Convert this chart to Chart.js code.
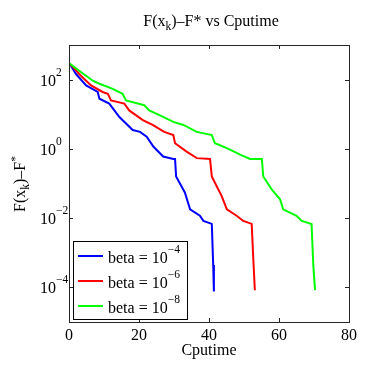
<!DOCTYPE html>
<html lang="en">
  <head>
    <meta charset="UTF-8" />
    <title>F(x_k)-F* vs Cputime</title>
    <script src="https://cdn.jsdelivr.net/npm/chart.js@4.4.1/dist/chart.umd.min.js"></script>
    <style>
      body { margin: 0; background: #fff; }
      #wrap { width: 382px; height: 370px; position: relative; }
    </style>
  </head>
  <body>
    <div id="wrap"><canvas id="gapChart"></canvas></div>
    <script>
      // values (Cputime, F(x_k)-F*)
      const blueTime = [0.2, 2, 4.9, 8.2, 8.7, 11.5, 14.4, 18.2, 20.3, 22.2, 24.1, 26.9, 29.8, 30.3, 30.6, 33.1, 34.6, 37.4, 38.4, 40.8, 41.2, 41.4];
      const blueGap = [290, 145, 68, 44, 28, 20.4, 8.3, 3.5, 3.1, 2.24, 1.17, 0.6, 0.51, 0.51, 0.16, 0.055, 0.018, 0.0117, 0.0083, 0.0068, 0.00044, 0.000076];

      const redTime = [0.2, 3.4, 6.3, 9.6, 11.1, 12, 15.8, 17.2, 21.1, 23.9, 27.2, 29.8, 30.3, 33.6, 36.5, 40.3, 40.8, 42.2, 43.6, 45.1, 47.9, 49.8, 52.2, 52.7, 53.1];
      const redGap = [290, 130, 68, 44, 39, 25, 20.4, 12.9, 6.8, 4.9, 3.1, 2.5, 1.45, 0.83, 0.54, 0.51, 0.16, 0.083, 0.044, 0.018, 0.0117, 0.0083, 0.0068, 0.00054, 0.000083];

      const greenTime = [0.2, 2.9, 6.8, 8.7, 12.5, 15.3, 16.3, 21.5, 22.9, 26, 29.8, 32.7, 36.5, 40.8, 41.7, 45.1, 48.9, 51.7, 55.1, 55.5, 57.9, 60.3, 61.2, 65, 66.5, 69.3, 69.8, 70.3];
      const greenGap = [290, 180, 93, 76, 54, 39, 25, 18.2, 12.9, 9.3, 6, 4.9, 3.1, 2.5, 1.45, 1.05, 0.68, 0.51, 0.51, 0.16, 0.068, 0.035, 0.018, 0.0117, 0.0083, 0.0068, 0.00044, 0.000083];

      const xTicks = [0, 20, 40, 60, 80];
      const yTicks = [1e-4, 1e-2, 1e0, 1e2];
      const yTickExp = ['\u22124', '\u22122', '0', '2'];
      const legendExp = ['\u22124', '\u22126', '\u22128'];
      const colors = ['#0000ff', '#ff0000', '#00ff00'];

      const FONT = '"Liberation Serif", "Times New Roman", serif';

      function pts(xs, ys) {
        return xs.map((x, i) => ({ x: x, y: ys[i] }));
      }

      // draw pieces of text one after the other: [text, size, dy]
      function runWidth(ctx, parts) {
        let w = 0;
        parts.forEach((p) => {
          ctx.font = p[1] + 'px ' + FONT;
          w += ctx.measureText(p[0]).width;
        });
        return w;
      }
      function drawRun(ctx, parts, x, y) {
        parts.forEach((p) => {
          ctx.font = p[1] + 'px ' + FONT;
          ctx.fillText(p[0], x, y + p[2]);
          x += ctx.measureText(p[0]).width;
        });
      }

      const matlabAxes = {
        id: 'matlabAxes',
        afterDraw(chart) {
          const ctx = chart.ctx;
          const a = chart.chartArea;
          const xs = chart.scales.x;
          const ys = chart.scales.y;
          ctx.save();
          ctx.fillStyle = '#000';
          ctx.strokeStyle = '#262626';
          ctx.lineWidth = 1;
          ctx.textAlign = 'left';
          ctx.textBaseline = 'alphabetic';

          // box
          ctx.strokeRect(Math.round(a.left) + 0.5, Math.round(a.top) + 0.5,
            Math.round(a.right - a.left), Math.round(a.bottom - a.top));

          // inward ticks
          ctx.beginPath();
          xTicks.forEach((v) => {
            const px = Math.round(xs.getPixelForValue(v)) + 0.5;
            ctx.moveTo(px, a.bottom); ctx.lineTo(px, a.bottom - 4);
            ctx.moveTo(px, a.top); ctx.lineTo(px, a.top + 4);
          });
          yTicks.forEach((v) => {
            const py = Math.round(ys.getPixelForValue(v)) + 0.5;
            ctx.moveTo(a.left, py); ctx.lineTo(a.left + 4, py);
            ctx.moveTo(a.right, py); ctx.lineTo(a.right - 4, py);
          });
          ctx.stroke();

          // x tick labels
          ctx.font = '16px ' + FONT;
          ctx.textAlign = 'center';
          xTicks.forEach((v) => {
            ctx.fillText(String(v), xs.getPixelForValue(v), 340);
          });
          ctx.fillText('Cputime', 209, 355);
          ctx.textAlign = 'left';

          // y tick labels 10^n
          yTicks.forEach((v, i) => {
            const py = ys.getPixelForValue(v);
            drawRun(ctx, [['10', 16, 0], [yTickExp[i], 11.5, -10]], 40, py + 6);
          });

          // title
          const title = [['F(x', 16, 0], ['k', 11.5, 4], [')\u2013F* vs Cputime', 16, 0]];
          drawRun(ctx, title, 211 - runWidth(ctx, title) / 2, 26);

          // y label, rotated
          const ylab = [['F(x', 16, 0], ['k', 11.5, 4], [')\u2013F', 16, 0], ['*', 11.5, -6]];
          ctx.save();
          ctx.translate(25, 184);
          ctx.rotate(-Math.PI / 2);
          drawRun(ctx, ylab, -runWidth(ctx, ylab) / 2, 0);
          ctx.restore();

          // legend
          const lx = 73.5, ly = 241.5, lw = 114, lh = 78;
          ctx.fillStyle = '#fff';
          ctx.fillRect(lx, ly, lw, lh);
          ctx.strokeStyle = '#000';
          ctx.strokeRect(lx, ly, lw, lh);
          chart.data.datasets.forEach((ds, i) => {
            const cy = 256 + i * 25;
            ctx.strokeStyle = ds.borderColor;
            ctx.lineWidth = 2;
            ctx.beginPath();
            ctx.moveTo(78, cy); ctx.lineTo(103, cy);
            ctx.stroke();
            ctx.fillStyle = '#000';
            drawRun(ctx, [['beta = 10', 16, 0], [legendExp[i], 11.5, -10]], 108, cy + 7);
          });
          ctx.restore();
        }
      };

      const ctx = document.getElementById('gapChart').getContext('2d');
      const gapChart = new Chart(ctx, {
        type: 'line',
        data: {
          datasets: [
            { label: 'beta = 1e-4', data: pts(blueTime, blueGap), borderColor: colors[0], order: 2 },
            { label: 'beta = 1e-6', data: pts(redTime, redGap), borderColor: colors[1], order: 1 },
            { label: 'beta = 1e-8', data: pts(greenTime, greenGap), borderColor: colors[2], order: 0 }
          ]
        },
        options: {
          responsive: true,
          maintainAspectRatio: false,
          animation: false,
          devicePixelRatio: 1,
          layout: { padding: { left: 69, right: 33, top: 45, bottom: 48 } },
          elements: {
            line: { borderWidth: 2, tension: 0, fill: false },
            point: { radius: 0 }
          },
          plugins: { legend: { display: false }, tooltip: { enabled: false }, title: { display: false } },
          scales: {
            x: { type: 'linear', min: 0, max: 80, display: false },
            y: { type: 'logarithmic', min: 1e-5, max: 1e3, display: false }
          }
        },
        plugins: [matlabAxes]
      });
    </script>
  </body>
</html>
